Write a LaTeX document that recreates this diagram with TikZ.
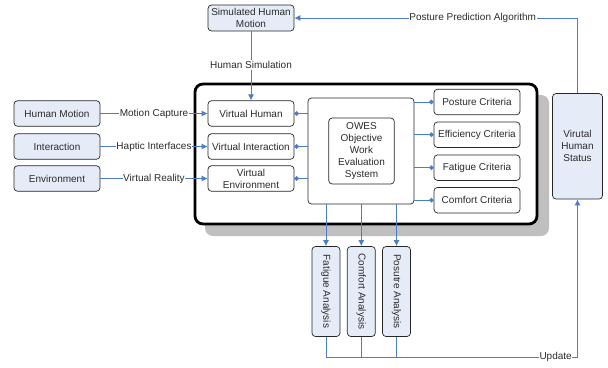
\documentclass[tikz,border=0pt]{standalone}
\usepackage{fontspec}
\setmainfont{Liberation Sans}
\usetikzlibrary{arrows.meta,positioning}
\definecolor{linkblue}{HTML}{4A7CC7}
\definecolor{boxfill}{HTML}{E6ECF7}
\definecolor{inkdark}{HTML}{2B2B2B}
\tikzset{
  x=1pt,y=-1pt,
  every node/.style={font=\fontsize{10}{12}\selectfont,text=inkdark,align=center,inner sep=0pt},
  plainbox/.style={draw=black!85,line width=0.7pt,rounded corners=3.5pt,fill=white,minimum width=86pt,minimum height=25.5pt},
  bluebox/.style={plainbox,fill=boxfill},
  vertbox/.style={plainbox,fill=boxfill,minimum width=90pt,minimum height=28pt,rotate=-90},
  link/.style={draw=linkblue,line width=0.9pt},
  arr/.style={link,-{Latex[length=6pt,width=6pt]}},
  dot/.style={link,-{Circle[length=4.5pt,width=4.5pt]}},
  lbl/.style={fill=white,inner xsep=0.5pt,inner ysep=1pt}
}
\begin{document}
\begin{tikzpicture}
\useasboundingbox (0,0) rectangle (608,367);
% shadow and frame
\fill[black!25,rounded corners=8pt] (205,95) rectangle (549,236);
\draw[black,line width=2.8pt,fill=white,rounded corners=8pt] (195,84) rectangle (537,224);
% boxes
\node[plainbox,fill=boxfill,minimum height=26pt] (sim) at (251,18) {Simulated Human\\Motion};
\node[bluebox] (hm) at (57,113.5) {Human Motion};
\node[bluebox] (ia) at (57,146.5) {Interaction};
\node[bluebox] (en) at (57,178.5) {Environment};
\node[plainbox] (vh) at (251,113.5) {Virtual Human};
\node[plainbox] (vi) at (251,146.5) {Virtual Interaction};
\node[plainbox] (ve) at (251,178.5) {Virtual\\Environment};
\node[plainbox,minimum width=106pt,minimum height=106pt] (ow) at (361,151) {};
\node[plainbox,minimum width=65.5pt,minimum height=66pt] (oi) at (361.5,151) {OWES\\Objective\\Work\\Evaluation\\System};
\node[plainbox] (pc) at (477,102) {Posture Criteria};
\node[plainbox] (ec) at (477,134.7) {Efficiency Criteria};
\node[plainbox] (fc) at (477,167.7) {Fatigue Criteria};
\node[plainbox] (cc) at (477,200.2) {Comfort Criteria};
\node[plainbox,fill=boxfill,minimum width=50pt,minimum height=105.5pt] (st) at (577.5,146.3) {Virutal\\Human\\Status};
\node[vertbox] (fa) at (326,291.5) {Fatigue Analysis};
\node[vertbox] (ca) at (361.3,291.5) {Comfort Analysis};
\node[vertbox] (pa) at (396.5,291.5) {Posutre Analysis};
% coordinates
\coordinate (busf) at (fa.east |- 0,357);
\coordinate (busc) at (ca.east |- 0,357);
\coordinate (busp) at (pa.east |- 0,357);
\coordinate (buss) at (st.south |- 0,357);
\coordinate (topr) at (st.north |- sim.east);
% connectors
\draw[arr] (sim.south) -- node[lbl,pos=0.485]{Human Simulation} (vh.north);
\draw[arr] (hm.east) -- node[lbl,pos=0.5]{Motion Capture} (vh.west);
\draw[arr] (ia.east) -- node[lbl,pos=0.5]{Haptic Interfaces} (vi.west);
\draw[arr] (en.east) -- node[lbl,pos=0.5]{Virtual Reality} (ve.west);
\draw[dot] (ow.west |- vh.east) -- (vh.east);
\draw[dot] (ow.west |- vi.east) -- (vi.east);
\draw[dot] (ow.west |- ve.east) -- (ve.east);
\draw[dot] (ow.east |- pc.west) -- (pc.west);
\draw[dot] (ow.east |- ec.west) -- (ec.west);
\draw[dot] (ow.east |- fc.west) -- (fc.west);
\draw[dot] (ow.east |- cc.west) -- (cc.west);
\draw[arr] (ow.south -| fa.west) -- (fa.west);
\draw[arr] (ow.south -| ca.west) -- (ca.west);
\draw[arr] (ow.south -| pa.west) -- (pa.west);
\draw[link] (ca.east) -- (busc);
\draw[link] (pa.east) -- (busp);
\draw[arr] (fa.east) -- (busf) -- node[lbl,pos=0.913]{Update} (buss) -- (st.south);
\draw[arr] (st.north) -- (topr) -- node[lbl,pos=0.37]{Posture Prediction Algorithm} (sim.east);
\end{tikzpicture}
\end{document}
